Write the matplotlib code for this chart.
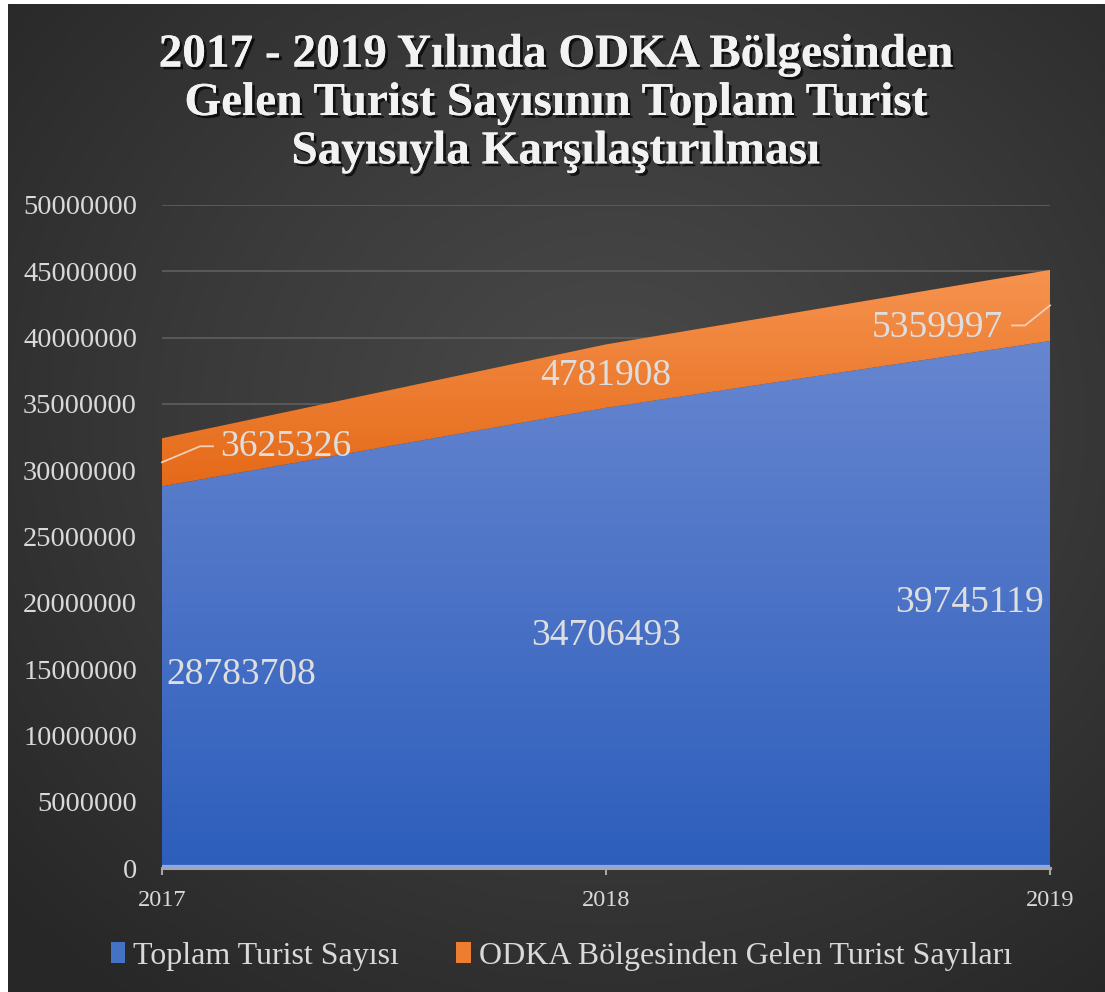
import numpy as np
import matplotlib
matplotlib.use("Agg")
import matplotlib.pyplot as plt
from matplotlib.patches import Patch
from matplotlib.colors import LinearSegmentedColormap
import matplotlib.patheffects as pe

years = [2017, 2018, 2019]
toplam = [28783708, 34706493, 39745119]
odka = [3625326, 4781908, 5359997]
yticks = list(range(0, 50000001, 5000000))
title = "2017 - 2019 Yılında ODKA Bölgesinden\nGelen Turist Sayısının Toplam Turist\nSayısıyla Karşılaştırılması"
series_names = ["Toplam Turist Sayısı", "ODKA Bölgesinden Gelen Turist Sayıları"]

plt.rcParams['font.family'] = ['Liberation Serif', 'DejaVu Serif']

W, H = 1105, 992
fig = plt.figure(figsize=(W / 100, H / 100), dpi=100, facecolor='white')

# background with radial gradient
bg = fig.add_axes([8 / W, 0, 1 - 8 / W, 1 - 4 / H])
bg.set_axis_off()
yy, xx = np.mgrid[0:1:400j, 0:1:450j]
r = np.sqrt(((xx - 0.55) / 0.75) ** 2 + ((yy - 0.42) / 0.75) ** 2)
r = np.clip(r, 0, 1)
bgcmap = LinearSegmentedColormap.from_list('bg', ['#4a4a4a', '#3a3a3a', '#272727'])
bg.imshow(r, cmap=bgcmap, aspect='auto', extent=[0, 1, 0, 1], origin='upper', vmin=0, vmax=1)
bg.set_xlim(0, 1)
bg.set_ylim(0, 1)

ax = fig.add_axes([162 / W, 1 - 868 / H, (1050 - 162) / W, (868 - 205) / H])
ax.patch.set_alpha(0)

top = [a + b for a, b in zip(toplam, odka)]
for yv in yticks[1:]:
    ax.axhline(yv, color='#5c5c5c', lw=1.3, zorder=1)

blue_poly = ax.fill_between(years, 0, toplam, color='none', lw=0, zorder=2)
orange_poly = ax.fill_between(years, toplam, top, color='none', lw=0, zorder=2)

blue_cmap = LinearSegmentedColormap.from_list('b', ['#2d5ebc', '#6786d0'])
orange_cmap = LinearSegmentedColormap.from_list('o', ['#e56a18', '#f6934f'])
grad = np.linspace(0, 1, 256).reshape(-1, 1)
im1 = ax.imshow(grad, cmap=blue_cmap, aspect='auto', origin='lower',
                extent=[2017, 2019, 0, max(toplam)], zorder=2)
im1.set_clip_path(blue_poly.get_paths()[0], transform=ax.transData)
im2 = ax.imshow(grad, cmap=orange_cmap, aspect='auto', origin='lower',
                extent=[2017, 2019, min(toplam), max(top)], zorder=2)
im2.set_clip_path(orange_poly.get_paths()[0], transform=ax.transData)
ax.set_xlim(2017, 2019)
ax.set_ylim(0, 50000000)
ax.plot(years, [120000] * 3, color='#8eaae6', lw=1.6, zorder=3)

for s in ['top', 'right', 'left']:
    ax.spines[s].set_visible(False)
ax.spines['bottom'].set_color('#a6a6a6')
ax.spines['bottom'].set_linewidth(2.2)
ax.spines['bottom'].set_zorder(4)

ax.set_yticks(yticks)
ax.set_yticklabels([str(v) for v in yticks])
ax.set_xticks(years)
ax.set_xticklabels([str(y) for y in years])
ax.tick_params(axis='y', length=0, pad=18, labelsize=20.5, labelcolor='#d9d9d9')
ax.tick_params(axis='x', length=5, width=1.5, color='#a6a6a6', direction='out', pad=11,
               labelsize=17.5, labelcolor='#d9d9d9')

lab_color = '#dedede'
fs = 27
has = ['left', 'center', 'right']
for i, (x, v) in enumerate(zip(years, toplam)):
    dx = {0: 4, 1: 0, 2: -6}[i]
    ax.annotate(str(v), xy=(x, v / 2), xytext=(dx, 2), textcoords='offset pixels',
                ha=has[i], va='center', fontsize=fs, color=lab_color, zorder=6)
mids = [a + b / 2 for a, b in zip(toplam, odka)]
offs = [(58, 16), (0, 0), (-47, -22)]
for i, (x, m, v) in enumerate(zip(years, mids, odka)):
    ox, oy = offs[i]
    ax.annotate(str(v), xy=(x, m), xytext=(ox, oy), textcoords='offset pixels',
                ha=has[i], va='center', fontsize=fs, color=lab_color, zorder=6)

def leader(x, y, pts):
    px, py = ax.transData.transform((x, y))
    xs = [px + p[0] for p in pts]
    ys = [py + p[1] for p in pts]
    d = ax.transData.inverted().transform(np.column_stack([xs, ys]))
    ax.plot(d[:, 0], d[:, 1], color='#efcfb8', lw=1.3, zorder=5, clip_on=False)

leader(years[0], mids[0], [(0, 0), (38, 16), (51, 16)])
leader(years[2], mids[2], [(0, 0), (-25, -20), (-38, -20)])

fig.text(0.503, 1 - 104 / H, title, ha='center', va='center', fontsize=34, fontweight='bold',
         color='#f2f2f2', linespacing=1.2,
         path_effects=[pe.withSimplePatchShadow(offset=(2, -2), shadow_rgbFace='black', alpha=0.7),
                       pe.Normal()])

handles = [Patch(facecolor='#4472c4', edgecolor='none'), Patch(facecolor='#ed7d31', edgecolor='none')]
leg = fig.legend(handles, series_names, loc='center', bbox_to_anchor=(0.508, 1 - 956 / H),
                 ncol=2, frameon=False, fontsize=23, handlelength=0.45, handleheight=0.65,
                 handletextpad=0.25, columnspacing=1.8, labelcolor='#d9d9d9')

fig.savefig('out.png', dpi=100, facecolor='white')
